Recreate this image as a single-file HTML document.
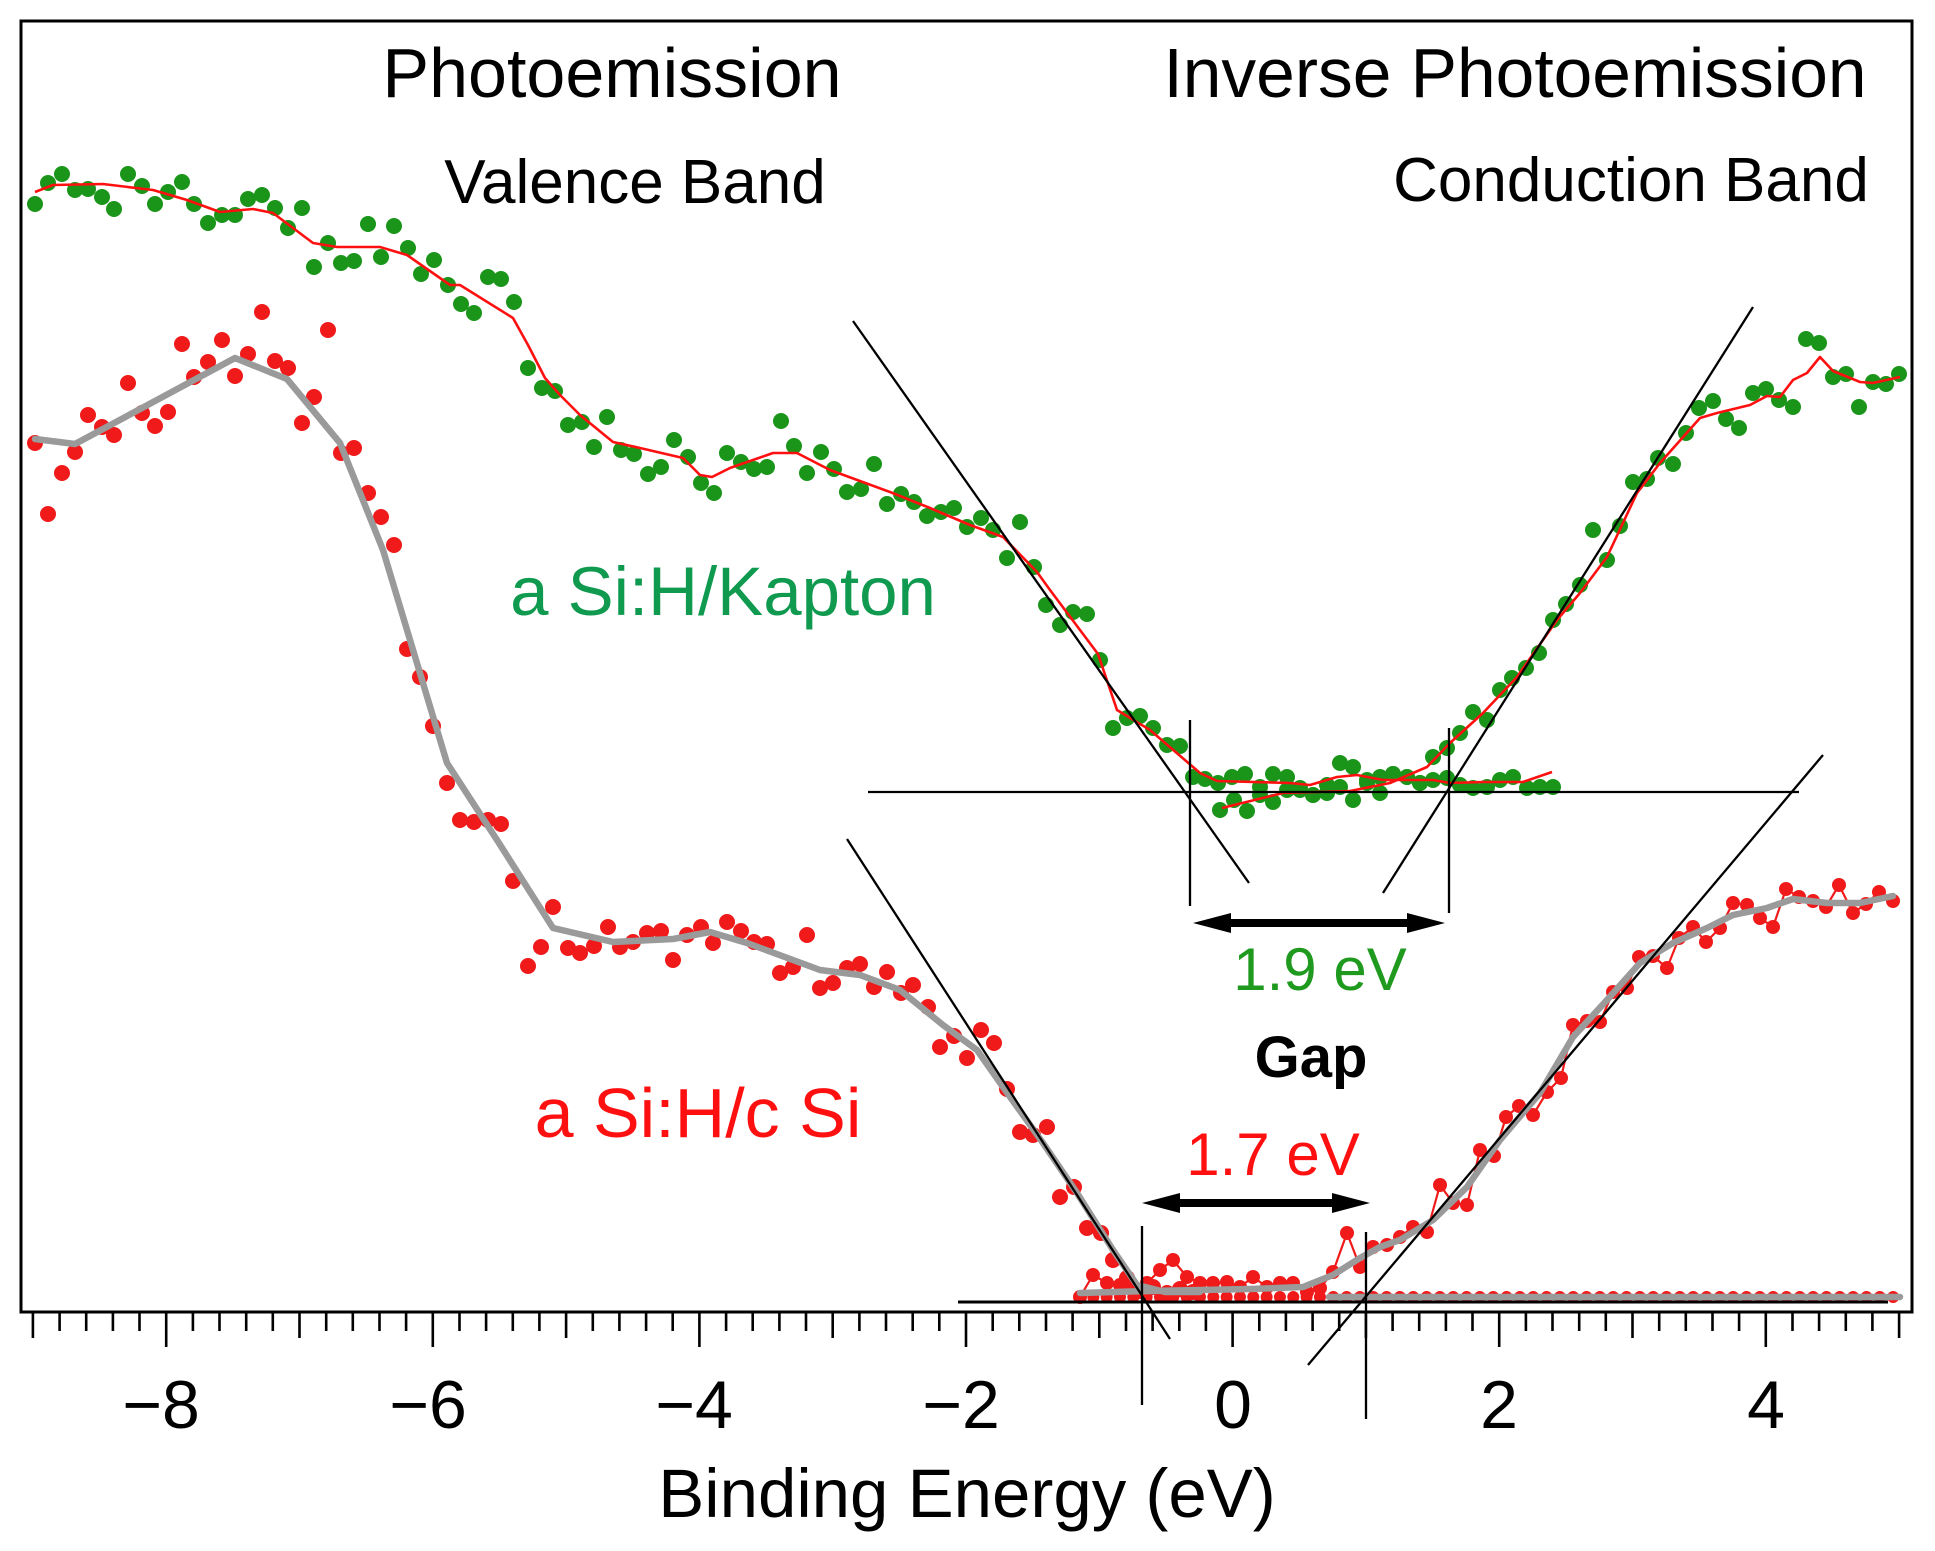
<!DOCTYPE html>
<html><head><meta charset="utf-8"><style>
html,body{margin:0;padding:0;background:#fff;}
svg{display:block;}
text{font-family:"Liberation Sans",Arial,sans-serif;}
</style></head><body>
<svg width="1935" height="1551" viewBox="0 0 1935 1551" xmlns="http://www.w3.org/2000/svg">
<rect x="0" y="0" width="1935" height="1551" fill="#fff"/>
<!-- frame -->
<rect x="21" y="21" width="1891" height="1291" fill="none" stroke="#000" stroke-width="3"/>
<!-- ticks -->
<path stroke="#000" stroke-width="2.6" fill="none" d="
M32.9 1312V1338 M59.6 1312V1331 M86.2 1312V1331 M112.9 1312V1331 M139.5 1312V1331
M166.2 1312V1347 M192.9 1312V1331 M219.5 1312V1331 M246.2 1312V1331 M272.8 1312V1331
M299.5 1312V1338 M326.2 1312V1331 M352.8 1312V1331 M379.5 1312V1331 M406.1 1312V1331
M432.8 1312V1347 M459.5 1312V1331 M486.1 1312V1331 M512.8 1312V1331 M539.4 1312V1331
M566.1 1312V1338 M592.8 1312V1331 M619.4 1312V1331 M646.1 1312V1331 M672.7 1312V1331
M699.4 1312V1347 M726.1 1312V1331 M752.7 1312V1331 M779.4 1312V1331 M806 1312V1331
M832.7 1312V1338 M859.4 1312V1331 M886 1312V1331 M912.7 1312V1331 M939.3 1312V1331
M966 1312V1347 M992.7 1312V1331 M1019.3 1312V1331 M1046 1312V1331 M1072.6 1312V1331
M1099.3 1312V1338 M1126 1312V1331 M1152.6 1312V1331 M1179.3 1312V1331 M1205.9 1312V1331
M1232.6 1312V1347 M1259.3 1312V1331 M1285.9 1312V1331 M1312.6 1312V1331 M1339.2 1312V1331
M1365.9 1312V1338 M1392.6 1312V1331 M1419.2 1312V1331 M1445.9 1312V1331 M1472.5 1312V1331
M1499.2 1312V1347 M1525.9 1312V1331 M1552.5 1312V1331 M1579.2 1312V1331 M1605.8 1312V1331
M1632.5 1312V1338 M1659.2 1312V1331 M1685.8 1312V1331 M1712.5 1312V1331 M1739.1 1312V1331
M1765.8 1312V1347 M1792.5 1312V1331 M1819.1 1312V1331 M1845.8 1312V1331 M1872.4 1312V1331
M1899.1 1312V1338"/>
<!-- tick labels -->
<g font-size="68" fill="#000" text-anchor="middle">
<text x="161" y="1428">−8</text>
<text x="428" y="1428">−6</text>
<text x="694" y="1428">−4</text>
<text x="961" y="1428">−2</text>
<text x="1233" y="1428">0</text>
<text x="1499" y="1428">2</text>
<text x="1766" y="1428">4</text>
</g>
<text x="967" y="1517" font-size="69" text-anchor="middle" fill="#000">Binding Energy (eV)</text>

<!-- header texts -->
<text x="612" y="97" font-size="70" text-anchor="middle" fill="#000">Photoemission</text>
<text x="1515" y="97" font-size="69.5" text-anchor="middle" fill="#000">Inverse Photoemission</text>
<text x="635" y="203" font-size="62" text-anchor="middle" fill="#000">Valence Band</text>
<text x="1631" y="201" font-size="62" text-anchor="middle" fill="#000">Conduction Band</text>

<!-- green PE dots -->
<g fill="#1a951a">
<circle cx="35" cy="204" r="8"/><circle cx="48" cy="183" r="8"/><circle cx="62" cy="174" r="8"/><circle cx="75" cy="190" r="8"/><circle cx="88" cy="189" r="8"/><circle cx="102" cy="197" r="8"/><circle cx="114" cy="209" r="8"/><circle cx="128" cy="174" r="8"/><circle cx="142" cy="186" r="8"/><circle cx="155" cy="204" r="8"/><circle cx="168" cy="192" r="8"/><circle cx="182" cy="182" r="8"/><circle cx="194" cy="204" r="8"/><circle cx="208" cy="223" r="8"/><circle cx="222" cy="215" r="8"/><circle cx="235" cy="215" r="8"/><circle cx="248" cy="199" r="8"/><circle cx="262" cy="195" r="8"/><circle cx="275" cy="208" r="8"/><circle cx="288" cy="228" r="8"/><circle cx="302" cy="208" r="8"/><circle cx="314" cy="267" r="8"/><circle cx="328" cy="243" r="8"/><circle cx="341" cy="263" r="8"/><circle cx="354" cy="261" r="8"/><circle cx="368" cy="224" r="8"/><circle cx="381" cy="257" r="8"/><circle cx="394" cy="226" r="8"/><circle cx="408" cy="248" r="8"/><circle cx="421" cy="274" r="8"/><circle cx="434" cy="260" r="8"/><circle cx="448" cy="285" r="8"/><circle cx="461" cy="304" r="8"/><circle cx="474" cy="313" r="8"/><circle cx="488" cy="277" r="8"/><circle cx="501" cy="279" r="8"/><circle cx="514" cy="302" r="8"/><circle cx="528" cy="368" r="8"/><circle cx="542" cy="388" r="8"/><circle cx="555" cy="391" r="8"/><circle cx="568" cy="425" r="8"/><circle cx="582" cy="422" r="8"/><circle cx="594" cy="447" r="8"/><circle cx="607" cy="417" r="8"/><circle cx="621" cy="450" r="8"/><circle cx="634" cy="454" r="8"/><circle cx="648" cy="474" r="8"/><circle cx="661" cy="467" r="8"/><circle cx="674" cy="440" r="8"/><circle cx="688" cy="457" r="8"/><circle cx="701" cy="483" r="8"/><circle cx="714" cy="493" r="8"/><circle cx="727" cy="453" r="8"/><circle cx="741" cy="462" r="8"/><circle cx="754" cy="469" r="8"/><circle cx="767" cy="467" r="8"/><circle cx="781" cy="421" r="8"/><circle cx="794" cy="446" r="8"/><circle cx="807" cy="473" r="8"/><circle cx="821" cy="452" r="8"/><circle cx="834" cy="469" r="8"/><circle cx="847" cy="492" r="8"/><circle cx="861" cy="489" r="8"/><circle cx="874" cy="464" r="8"/><circle cx="887" cy="504" r="8"/><circle cx="901" cy="494" r="8"/><circle cx="914" cy="502" r="8"/><circle cx="927" cy="516" r="8"/><circle cx="941" cy="512" r="8"/><circle cx="954" cy="508" r="8"/><circle cx="967" cy="527" r="8"/><circle cx="981" cy="518" r="8"/><circle cx="993" cy="530" r="8"/><circle cx="1007" cy="558" r="8"/><circle cx="1020" cy="522" r="8"/><circle cx="1034" cy="567" r="8"/><circle cx="1046" cy="605" r="8"/><circle cx="1060" cy="625" r="8"/><circle cx="1073" cy="612" r="8"/><circle cx="1087" cy="614" r="8"/><circle cx="1100" cy="660" r="8"/><circle cx="1113" cy="728" r="8"/><circle cx="1127" cy="718" r="8"/><circle cx="1140" cy="716" r="8"/><circle cx="1153" cy="728" r="8"/><circle cx="1167" cy="745" r="8"/><circle cx="1180" cy="746" r="8"/><circle cx="1193" cy="777" r="8"/><circle cx="1205" cy="779" r="8"/><circle cx="1218" cy="783" r="8"/><circle cx="1232" cy="777" r="8"/><circle cx="1245" cy="774" r="8"/><circle cx="1260" cy="787" r="8"/><circle cx="1273" cy="774" r="8"/><circle cx="1287" cy="777" r="8"/><circle cx="1300" cy="788" r="8"/><circle cx="1313" cy="795" r="8"/><circle cx="1327" cy="793" r="8"/><circle cx="1340" cy="787" r="8"/><circle cx="1353" cy="800" r="8"/><circle cx="1367" cy="783" r="8"/><circle cx="1380" cy="793" r="8"/><circle cx="1393" cy="774" r="8"/><circle cx="1407" cy="777" r="8"/><circle cx="1420" cy="783" r="8"/><circle cx="1433" cy="780" r="8"/><circle cx="1447" cy="778" r="8"/><circle cx="1460" cy="785" r="8"/><circle cx="1473" cy="788" r="8"/><circle cx="1487" cy="787" r="8"/><circle cx="1500" cy="780" r="8"/><circle cx="1513" cy="777" r="8"/><circle cx="1527" cy="788" r="8"/><circle cx="1540" cy="787" r="8"/><circle cx="1553" cy="787" r="8"/>
<!-- green IPE dots -->
<circle cx="1220" cy="810" r="8"/><circle cx="1234" cy="800" r="8"/><circle cx="1247" cy="811" r="8"/><circle cx="1260" cy="795" r="8"/><circle cx="1273" cy="802" r="8"/><circle cx="1287" cy="790" r="8"/><circle cx="1300" cy="790" r="8"/><circle cx="1313" cy="795" r="8"/><circle cx="1327" cy="785" r="8"/><circle cx="1340" cy="763" r="8"/><circle cx="1353" cy="767" r="8"/><circle cx="1367" cy="780" r="8"/><circle cx="1380" cy="777" r="8"/><circle cx="1393" cy="774" r="8"/><circle cx="1407" cy="777" r="8"/><circle cx="1420" cy="783" r="8"/><circle cx="1433" cy="757" r="8"/><circle cx="1447" cy="748" r="8"/><circle cx="1460" cy="733" r="8"/><circle cx="1473" cy="712" r="8"/><circle cx="1487" cy="720" r="8"/><circle cx="1500" cy="690" r="8"/><circle cx="1512" cy="678" r="8"/><circle cx="1526" cy="668" r="8"/><circle cx="1539" cy="653" r="8"/><circle cx="1553" cy="620" r="8"/><circle cx="1566" cy="604" r="8"/><circle cx="1580" cy="585" r="8"/><circle cx="1593" cy="530" r="8"/><circle cx="1607" cy="560" r="8"/><circle cx="1620" cy="526" r="8"/><circle cx="1633" cy="482" r="8"/><circle cx="1647" cy="479" r="8"/><circle cx="1658" cy="458" r="8"/><circle cx="1673" cy="464" r="8"/><circle cx="1686" cy="433" r="8"/><circle cx="1699" cy="408" r="8"/><circle cx="1713" cy="401" r="8"/><circle cx="1726" cy="419" r="8"/><circle cx="1739" cy="428" r="8"/><circle cx="1753" cy="393" r="8"/><circle cx="1766" cy="389" r="8"/><circle cx="1779" cy="400" r="8"/><circle cx="1793" cy="407" r="8"/><circle cx="1806" cy="339" r="8"/><circle cx="1819" cy="343" r="8"/><circle cx="1833" cy="377" r="8"/><circle cx="1846" cy="374" r="8"/><circle cx="1859" cy="407" r="8"/><circle cx="1873" cy="382" r="8"/><circle cx="1886" cy="384" r="8"/><circle cx="1899" cy="374" r="8"/>
</g>
<!-- green fits (red thin lines) -->
<g fill="none" stroke="#ff1010" stroke-width="2.6" stroke-linejoin="round">
<polyline points="35,192 53,185 103,184 153,190 187,200 220,212 253,209 273,213 313,243 337,247 380,247 407,255 450,285 460,285 513,318 528,345 545,378 560,395 580,415 613,442 640,448 683,458 700,475 712,477 730,468 773,453 797,453 830,470 890,492 930,508 970,525 1003,537 1037,572 1050,590 1098,654 1117,710 1150,730 1200,773 1217,781 1290,783 1310,785 1337,777 1357,775 1383,780 1433,780 1450,783 1483,782 1523,782 1552,772"/>
<polyline points="1222,808 1283,793 1350,791 1390,783 1427,767 1450,743 1483,713 1517,677 1557,620 1580,593 1607,557 1637,493 1660,463 1700,418 1717,413 1750,405 1767,396 1780,397 1793,380 1807,373 1820,357 1833,371 1860,382 1873,383 1900,377"/>
</g>

<!-- red PE dots -->
<g fill="#f01a1a">
<circle cx="35" cy="443" r="8"/><circle cx="48" cy="514" r="8"/><circle cx="62" cy="473" r="8"/><circle cx="75" cy="452" r="8"/><circle cx="88" cy="415" r="8"/><circle cx="102" cy="427" r="8"/><circle cx="114" cy="435" r="8"/><circle cx="128" cy="383" r="8"/><circle cx="142" cy="413" r="8"/><circle cx="155" cy="426" r="8"/><circle cx="168" cy="412" r="8"/><circle cx="182" cy="344" r="8"/><circle cx="194" cy="377" r="8"/><circle cx="208" cy="362" r="8"/><circle cx="222" cy="340" r="8"/><circle cx="235" cy="376" r="8"/><circle cx="248" cy="354" r="8"/><circle cx="262" cy="312" r="8"/><circle cx="275" cy="361" r="8"/><circle cx="288" cy="368" r="8"/><circle cx="302" cy="423" r="8"/><circle cx="314" cy="397" r="8"/><circle cx="328" cy="330" r="8"/><circle cx="341" cy="453" r="8"/><circle cx="354" cy="448" r="8"/><circle cx="368" cy="493" r="8"/><circle cx="381" cy="517" r="8"/><circle cx="394" cy="545" r="8"/><circle cx="407" cy="649" r="8"/><circle cx="420" cy="677" r="8"/><circle cx="433" cy="726" r="8"/><circle cx="447" cy="783" r="8"/><circle cx="460" cy="820" r="8"/><circle cx="474" cy="822" r="8"/><circle cx="488" cy="820" r="8"/><circle cx="501" cy="824" r="8"/><circle cx="513" cy="881" r="8"/><circle cx="528" cy="966" r="8"/><circle cx="541" cy="947" r="8"/><circle cx="553" cy="907" r="8"/><circle cx="568" cy="948" r="8"/><circle cx="580" cy="953" r="8"/><circle cx="594" cy="946" r="8"/><circle cx="608" cy="927" r="8"/><circle cx="620" cy="947" r="8"/><circle cx="633" cy="942" r="8"/><circle cx="647" cy="933" r="8"/><circle cx="661" cy="931" r="8"/><circle cx="673" cy="960" r="8"/><circle cx="687" cy="935" r="8"/><circle cx="701" cy="927" r="8"/><circle cx="713" cy="943" r="8"/><circle cx="727" cy="922" r="8"/><circle cx="741" cy="931" r="8"/><circle cx="754" cy="942" r="8"/><circle cx="767" cy="944" r="8"/><circle cx="780" cy="973" r="8"/><circle cx="793" cy="967" r="8"/><circle cx="807" cy="935" r="8"/><circle cx="820" cy="988" r="8"/><circle cx="833" cy="983" r="8"/><circle cx="847" cy="968" r="8"/><circle cx="860" cy="964" r="8"/><circle cx="874" cy="987" r="8"/><circle cx="887" cy="972" r="8"/><circle cx="901" cy="993" r="8"/><circle cx="913" cy="985" r="8"/><circle cx="928" cy="1007" r="8"/><circle cx="940" cy="1047" r="8"/><circle cx="954" cy="1036" r="8"/><circle cx="967" cy="1058" r="8"/><circle cx="981" cy="1030" r="8"/><circle cx="994" cy="1043" r="8"/><circle cx="1007" cy="1089" r="8"/><circle cx="1020" cy="1132" r="8"/><circle cx="1033" cy="1135" r="8"/><circle cx="1047" cy="1127" r="8"/><circle cx="1060" cy="1197" r="8"/><circle cx="1074" cy="1187" r="8"/><circle cx="1087" cy="1228" r="8"/><circle cx="1101" cy="1233" r="8"/><circle cx="1113" cy="1260" r="8"/><circle cx="1127" cy="1278" r="8"/><circle cx="1140" cy="1291" r="8"/><circle cx="1153" cy="1287" r="8"/><circle cx="1167" cy="1293" r="8"/><circle cx="1180" cy="1289" r="8"/><circle cx="1193" cy="1292" r="8"/>
</g>

<!-- red bottom dotted row -->
<line x1="1080" y1="1297" x2="1902" y2="1297" stroke="#f01a1a" stroke-width="12" stroke-linecap="round" stroke-dasharray="0 13.33"/>

<!-- red IPE connected data -->
<polyline fill="none" stroke="#f01a1a" stroke-width="2.2" stroke-linejoin="round" points="1080,1297 1093,1275 1107,1283 1120,1285 1133,1288 1147,1283 1160,1270 1173,1260 1187,1277 1200,1283 1213,1283 1227,1282 1240,1287 1253,1277 1267,1287 1280,1283 1293,1283 1307,1292 1320,1288 1333,1272 1347,1233 1360,1267 1373,1247 1387,1245 1400,1237 1413,1227 1427,1232 1440,1185 1453,1203 1467,1205 1480,1150 1494,1156 1506,1117 1519,1106 1533,1115 1547,1092 1561,1078 1573,1025 1587,1021 1600,1022 1613,992 1627,988 1639,957 1653,956 1667,968 1679,938 1693,927 1706,942 1720,928 1733,903 1747,905 1760,918 1773,927 1786,889 1799,897 1813,901 1826,907 1839,885 1853,913 1866,904 1879,892 1893,901"/>
<g fill="#f01a1a">
<circle cx="1080" cy="1297" r="7"/><circle cx="1093" cy="1275" r="7"/><circle cx="1107" cy="1283" r="7"/><circle cx="1120" cy="1285" r="7"/><circle cx="1133" cy="1288" r="7"/><circle cx="1147" cy="1283" r="7"/><circle cx="1160" cy="1270" r="7"/><circle cx="1173" cy="1260" r="7"/><circle cx="1187" cy="1277" r="7"/><circle cx="1200" cy="1283" r="7"/><circle cx="1213" cy="1283" r="7"/><circle cx="1227" cy="1282" r="7"/><circle cx="1240" cy="1287" r="7"/><circle cx="1253" cy="1277" r="7"/><circle cx="1267" cy="1287" r="7"/><circle cx="1280" cy="1283" r="7"/><circle cx="1293" cy="1283" r="7"/><circle cx="1307" cy="1292" r="7"/><circle cx="1320" cy="1288" r="7"/><circle cx="1333" cy="1272" r="7"/><circle cx="1347" cy="1233" r="7"/><circle cx="1360" cy="1267" r="7"/><circle cx="1373" cy="1247" r="7"/><circle cx="1387" cy="1245" r="7"/><circle cx="1400" cy="1237" r="7"/><circle cx="1413" cy="1227" r="7"/><circle cx="1427" cy="1232" r="7"/><circle cx="1440" cy="1185" r="7"/><circle cx="1453" cy="1203" r="7"/><circle cx="1467" cy="1205" r="7"/><circle cx="1480" cy="1150" r="7"/><circle cx="1494" cy="1156" r="7"/><circle cx="1506" cy="1117" r="7"/><circle cx="1519" cy="1106" r="7"/><circle cx="1533" cy="1115" r="7"/><circle cx="1547" cy="1092" r="7"/><circle cx="1561" cy="1078" r="7"/><circle cx="1573" cy="1025" r="7"/><circle cx="1587" cy="1021" r="7"/><circle cx="1600" cy="1022" r="7"/><circle cx="1613" cy="992" r="7"/><circle cx="1627" cy="988" r="7"/><circle cx="1639" cy="957" r="7"/><circle cx="1653" cy="956" r="7"/><circle cx="1667" cy="968" r="7"/><circle cx="1679" cy="938" r="7"/><circle cx="1693" cy="927" r="7"/><circle cx="1706" cy="942" r="7"/><circle cx="1720" cy="928" r="7"/><circle cx="1733" cy="903" r="7"/><circle cx="1747" cy="905" r="7"/><circle cx="1760" cy="918" r="7"/><circle cx="1773" cy="927" r="7"/><circle cx="1786" cy="889" r="7"/><circle cx="1799" cy="897" r="7"/><circle cx="1813" cy="901" r="7"/><circle cx="1826" cy="907" r="7"/><circle cx="1839" cy="885" r="7"/><circle cx="1853" cy="913" r="7"/><circle cx="1866" cy="904" r="7"/><circle cx="1879" cy="892" r="7"/><circle cx="1893" cy="901" r="7"/>
</g>

<!-- gray fits -->
<g fill="none" stroke="#9a9a9a" stroke-width="6.5" stroke-linejoin="round" stroke-linecap="round">
<polyline points="35,439 75,444 235,358 287,379 340,443 383,550 398,600 447,763 497,840 553,928 613,942 673,939 710,932 747,943 820,970 860,975 900,990 943,1025 977,1050 1003,1087 1043,1143 1077,1193 1113,1250 1137,1285 1165,1292 1200,1292"/>
<polyline points="1080,1293 1150,1291 1250,1289 1303,1287 1333,1275 1360,1258 1380,1247 1400,1240 1433,1220 1467,1187 1500,1140 1540,1093 1573,1037 1607,1000 1640,963 1673,943 1707,928 1733,915 1767,908 1793,899 1827,903 1860,903 1893,896"/>
<line x1="1329" y1="1297" x2="1900" y2="1297"/>
</g>

<!-- black construction lines -->
<g stroke="#000" stroke-width="2.3" fill="none">
<line x1="853" y1="321" x2="1249" y2="883"/>
<line x1="1383" y1="893" x2="1753" y2="307"/>
<line x1="847" y1="839" x2="1170" y2="1339"/>
<line x1="1308" y1="1365" x2="1823" y2="755"/>
<line x1="868" y1="792" x2="1799" y2="792"/>
<line x1="958" y1="1302" x2="1888" y2="1302" stroke-width="3"/>
<line x1="1190" y1="720" x2="1190" y2="906"/>
<line x1="1449" y1="728" x2="1449" y2="913"/>
<line x1="1142" y1="1226" x2="1142" y2="1405"/>
<line x1="1366" y1="1232" x2="1366" y2="1419"/>
</g>

<!-- arrows -->
<g fill="#000">
<rect x="1225" y="919" width="190" height="8"/>
<polygon points="1193,923 1231,913 1231,933"/>
<polygon points="1445,923 1407,913 1407,933"/>
<rect x="1174" y="1199" width="164" height="8"/>
<polygon points="1142,1203 1180,1193 1180,1213"/>
<polygon points="1370,1203 1332,1193 1332,1213"/>
</g>

<!-- labels -->
<text x="723" y="615" font-size="69" text-anchor="middle" fill="#109a50">a Si:H/Kapton</text>
<text x="698" y="1137" font-size="70" text-anchor="middle" fill="#ff1010">a Si:H/c Si</text>
<text x="1320" y="990" font-size="60" text-anchor="middle" fill="#1f9a1f">1.9 eV</text>
<text x="1311" y="1077" font-size="58" font-weight="bold" text-anchor="middle" fill="#000">Gap</text>
<text x="1273" y="1175" font-size="60" text-anchor="middle" fill="#ff1010">1.7 eV</text>
</svg>
</body></html>
